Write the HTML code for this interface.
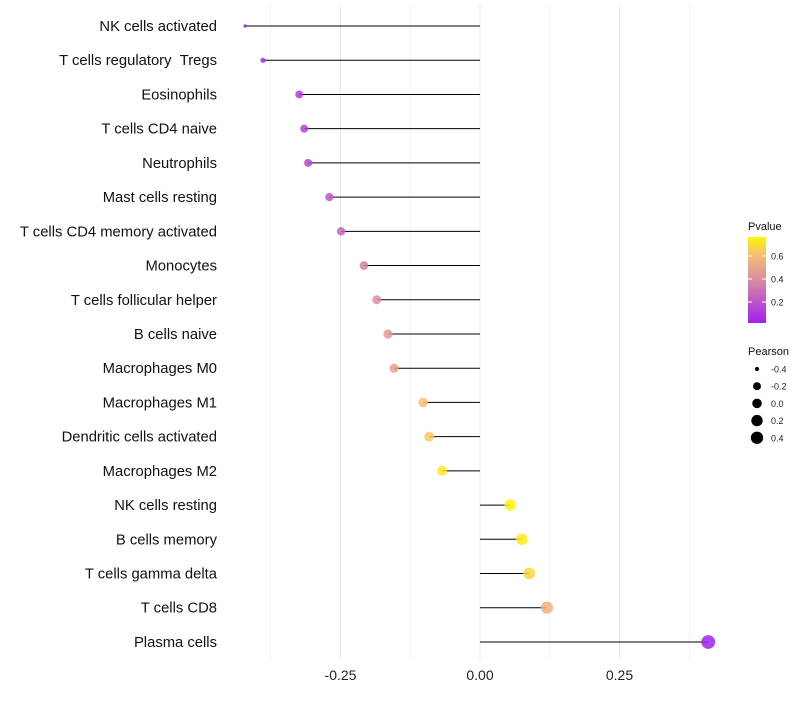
<!DOCTYPE html>
<html><head><meta charset="utf-8"><style>
body{margin:0;background:#fff;font-family:"Liberation Sans",sans-serif}
</style></head><body>
<svg id="c" width="800" height="700" xmlns="http://www.w3.org/2000/svg">
<defs><linearGradient id="g" x1="0" y1="1" x2="0" y2="0">
<stop offset="0" stop-color="#A020F0"/><stop offset="0.5" stop-color="#D98CA0"/><stop offset="0.8" stop-color="#F5C070"/><stop offset="1" stop-color="#FFF700"/></linearGradient></defs>
</svg>
<script>
const categories=["NK cells activated","T cells regulatory\u00a0\u00a0Tregs","Eosinophils","T cells CD4 naive","Neutrophils","Mast cells resting","T cells CD4 memory activated","Monocytes","T cells follicular helper","B cells naive","Macrophages M0","Macrophages M1","Dendritic cells activated","Macrophages M2","NK cells resting","B cells memory","T cells gamma delta","T cells CD8","Plasma cells"];
const pearson=[-0.421,-0.389,-0.324,-0.315,-0.308,-0.270,-0.249,-0.208,-0.185,-0.165,-0.154,-0.102,-0.091,-0.068,0.054,0.075,0.088,0.120,0.409];
const pvalues=[0.01,0.05,0.1,0.12,0.14,0.2,0.25,0.35,0.4,0.45,0.48,0.62,0.64,0.72,0.76,0.73,0.68,0.55,0.01];
const xTicks=[-0.25,0,0.25];
const xTickLabels=["-0.25","0.00","0.25"];
const pTicks=[0.2,0.4,0.6];
const sizeTicks=[-0.4,-0.2,0.0,0.2,0.4];
const NS="http://www.w3.org/2000/svg",svg=document.getElementById("c");
const x=v=>480+v*558, y=i=>26+i*34.22;
const rk=[[-0.45,1.5],[-0.42,1.7],[-0.39,2.6],[-0.32,4],[-0.2,4.4],[0,5.3],[0.12,6.1],[0.45,7]];
function r(v){for(let k=1;k<rk.length;k++){if(v<=rk[k][0]){const a=rk[k-1],b=rk[k];return a[1]+(b[1]-a[1])*(v-a[0])/(b[0]-a[0]);}}return 7;}
const stops=[[0,[160,32,240]],[0.5,[217,140,160]],[0.8,[245,192,112]],[1,[255,247,0]]];
function col(p){let t=Math.min(1,Math.max(0,p/0.765));for(let k=1;k<stops.length;k++){if(t<=stops[k][0]){const a=stops[k-1],b=stops[k],f=(t-a[0])/(b[0]-a[0]);return "rgb("+a[1].map((c,j)=>Math.round(c+(b[1][j]-c)*f)).join(",")+")";}}return "rgb(255,247,0)";}
function el(t,a,txt){const e=document.createElementNS(NS,t);for(const k in a)e.setAttribute(k,a[k]);if(txt!=null)e.textContent=txt;svg.appendChild(e);return e;}
for(let v=-0.375;v<=0.4;v+=0.125){const g=el("line",{x1:x(v),x2:x(v),y1:5,y2:660,stroke:"#ebebeb","stroke-width":Math.abs(v*8%2)<0.01?1:0.6});

}
xTicks.forEach((v,i)=>{const t=el("text",{x:x(v),y:680,"text-anchor":"middle","font-size":14,fill:"#222"},xTickLabels[i]);

});
categories.forEach((c,i)=>{
const t=el("text",{x:217,y:y(i)+5,"text-anchor":"end","font-size":14.8,fill:"#111"},c);


const l=el("line",{x1:x(0),x2:x(pearson[i]),y1:y(i),y2:y(i),stroke:"#000","stroke-width":1});


const p=el("circle",{cx:x(pearson[i]),cy:y(i),r:r(pearson[i]),fill:col(pvalues[i]),"fill-opacity":0.85});


});
const lt=el("text",{x:748,y:230,"font-size":11,fill:"#111"},"Pvalue");


const cb=el("rect",{x:748,y:237,width:18,height:86,fill:"url(#g)"});


pTicks.forEach(v=>{const yy=325-v/0.2*23;
el("line",{x1:748,x2:752,y1:yy,y2:yy,stroke:"#fff"});el("line",{x1:762,x2:766,y1:yy,y2:yy,stroke:"#fff"});
const t=el("text",{x:771,y:yy+3.5,"font-size":9,fill:"#222"},v.toFixed(1));

});
const st=el("text",{x:748,y:355,"font-size":11,fill:"#111"},"Pearson");


sizeTicks.forEach((v,i)=>{const yy=369+i*17.2;
const c=el("circle",{cx:757,cy:yy,r:r(v)*0.9,fill:"#000"});


const t=el("text",{x:771,y:yy+3.5,"font-size":9,fill:"#222"},v.toFixed(1));

});
</script>
</body></html>
